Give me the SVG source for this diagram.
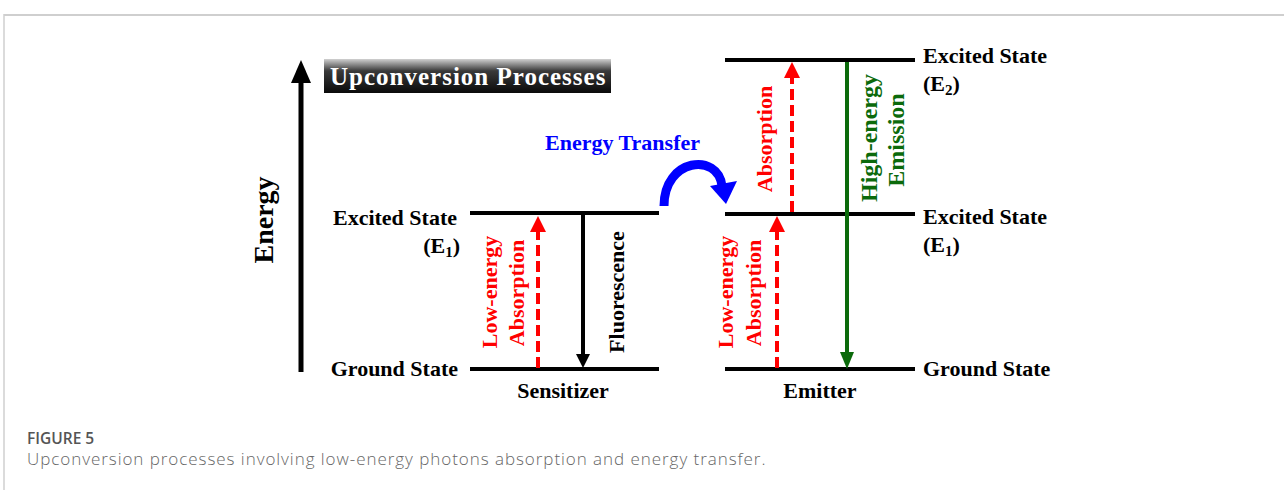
<svg xmlns="http://www.w3.org/2000/svg" width="1284" height="490" viewBox="0 0 1284 490">
<defs>
<linearGradient id="tg" x1="0" y1="0" x2="0" y2="1">
<stop offset="0" stop-color="#d0d0d0"/>
<stop offset="0.35" stop-color="#3a3a3a"/>
<stop offset="1" stop-color="#0a0a0a"/>
</linearGradient>
</defs>
<style>
.lbl{font-family:"Liberation Serif","Times New Roman",serif;font-weight:bold;font-size:22px;fill:#000}
.big{font-size:28px}
.ttl{font-size:25px;letter-spacing:1px;fill:#fff}
.g24{font-size:24px;fill:#0b6a0b}
.blu{font-size:22px;fill:#0000ff}
.red{fill:#ff0000}
.sub{font-size:15px}
.lvl{stroke:#000;stroke-width:4;fill:none}
.dash{stroke:#ff0000;stroke-width:4;stroke-dasharray:11 5;fill:none}
.cap1{font-family:"Open Sans","Noto Sans",sans-serif;font-weight:600;font-size:15.5px;fill:#555}
.cap2{font-family:"Open Sans","Noto Sans",sans-serif;font-weight:300;font-size:17px;letter-spacing:0.95px;fill:#666}
</style>
<rect x="0" y="0" width="1284" height="490" fill="#fff"/>
<g id="frame">
<line x1="4" y1="15" x2="1284" y2="15" stroke="#cfcfcf" stroke-width="2"/>
<line x1="4" y1="14" x2="4" y2="490" stroke="#cfcfcf" stroke-width="1.5"/>
</g>
<g id="energy-axis">
<line x1="301" y1="372" x2="301" y2="80" stroke="#000" stroke-width="5"/>
<polygon points="291,83 311,83 301,60" fill="#000"/>
<text class="lbl big" transform="translate(273,220) rotate(-90)" text-anchor="middle">Energy</text>
</g>
<g id="title">
<rect x="324" y="59" width="287" height="34" fill="url(#tg)"/>
<text class="lbl ttl" x="330" y="85">Upconversion Processes</text>
</g>
<g id="sensitizer">
<line class="lvl" x1="470" y1="213" x2="659" y2="213"/>
<line class="lvl" x1="470" y1="369" x2="659" y2="369"/>
<text class="lbl" x="457" y="225" text-anchor="end">Excited State</text>
<text class="lbl" x="460" y="253" text-anchor="end">(E<tspan class="sub" dy="4">1</tspan><tspan dy="-4">)</tspan></text>
<text class="lbl" x="458" y="376" text-anchor="end">Ground State</text>
<text class="lbl" x="563" y="398" text-anchor="middle">Sensitizer</text>
</g>
<g id="emitter">
<line class="lvl" x1="725" y1="60" x2="915" y2="60"/>
<line class="lvl" x1="725" y1="214" x2="915" y2="214"/>
<line class="lvl" x1="725" y1="369" x2="915" y2="369"/>
<text class="lbl" x="923" y="63">Excited State</text>
<text class="lbl" x="923" y="91">(E<tspan class="sub" dy="4">2</tspan><tspan dy="-4">)</tspan></text>
<text class="lbl" x="923" y="224">Excited State</text>
<text class="lbl" x="923" y="252">(E<tspan class="sub" dy="4">1</tspan><tspan dy="-4">)</tspan></text>
<text class="lbl" x="923" y="376">Ground State</text>
<text class="lbl" x="820" y="398" text-anchor="middle">Emitter</text>
</g>
<g id="connectors">
<line class="dash" x1="538" y1="368" x2="538" y2="230"/>
<polygon points="530,232 546,232 538,216" fill="#ff0000"/>
<line x1="583" y1="215" x2="583" y2="356" stroke="#000" stroke-width="4"/>
<polygon points="576,354 590,354 583,368" fill="#000"/>
<line class="dash" x1="777" y1="368" x2="777" y2="230"/>
<polygon points="769,232 785,232 777,216" fill="#ff0000"/>
<line class="dash" x1="792" y1="212" x2="792" y2="76"/>
<polygon points="784,78 800,78 792,62" fill="#ff0000"/>
<line x1="847" y1="62" x2="847" y2="355" stroke="#0b6a0b" stroke-width="4"/>
<polygon points="840,352 854,352 847,369" fill="#0b6a0b"/>
<path d="M664,206 C664,158 718,152 722,186" stroke="#0000ff" stroke-width="9" fill="none"/>
<polygon points="710,186 737,181 726,204" fill="#0000ff"/>
</g>
<g id="process-labels">
<text class="lbl red" transform="translate(497,292) rotate(-90)" text-anchor="middle">Low-energy</text>
<text class="lbl red" transform="translate(524,293) rotate(-90)" text-anchor="middle">Absorption</text>
<text class="lbl" transform="translate(624,292) rotate(-90)" text-anchor="middle">Fluorescence</text>
<text class="lbl red" transform="translate(733,292) rotate(-90)" text-anchor="middle">Low-energy</text>
<text class="lbl red" transform="translate(761,293) rotate(-90)" text-anchor="middle">Absorption</text>
<text class="lbl red" transform="translate(772,139) rotate(-90)" text-anchor="middle">Absorption</text>
<text class="lbl g24" transform="translate(877,138) rotate(-90)" text-anchor="middle">High-energy</text>
<text class="lbl g24" transform="translate(904,140) rotate(-90)" text-anchor="middle">Emission</text>
<text class="lbl blu" x="545" y="150">Energy Transfer</text>
</g>
<g id="caption">
<text class="cap1" x="27" y="444">FIGURE 5</text>
<text class="cap2" x="27" y="465">Upconversion processes involving low-energy photons absorption and energy transfer.</text>
</g>
</svg>
